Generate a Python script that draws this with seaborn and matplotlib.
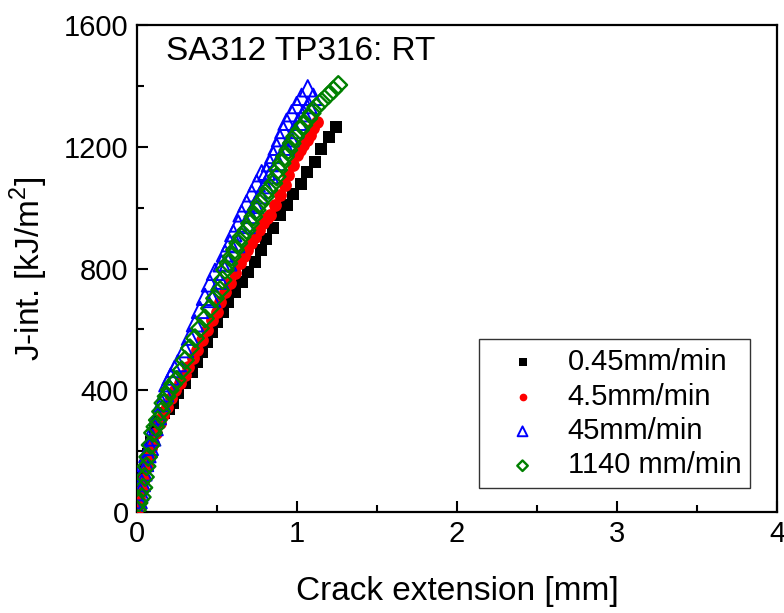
import matplotlib
matplotlib.use("Agg")
import matplotlib.pyplot as plt
import seaborn as sns
from matplotlib.ticker import MultipleLocator

sns.set_style("ticks")
plt.rcParams['font.family'] = ['Liberation Sans', 'DejaVu Sans']
plt.rcParams['mathtext.fontset'] = 'custom'
plt.rcParams['mathtext.rm'] = 'Liberation Sans'
for k in ['text.color', 'axes.labelcolor', 'xtick.color', 'ytick.color', 'axes.edgecolor']:
    plt.rcParams[k] = 'black'

labels = ["0.45mm/min", "4.5mm/min", "45mm/min", "1140 mm/min"]

x_045 = [0.0, 0.01, 0.02, 0.03, 0.05, 0.07, 0.09, 0.11, 0.14, 0.17, 0.197, 0.227, 0.258, 0.30,
         0.342, 0.373, 0.404, 0.435, 0.467, 0.498, 0.535, 0.571, 0.6125, 0.654, 0.696, 0.7375,
         0.773, 0.806, 0.852, 0.894, 0.935, 0.977, 1.023, 1.065, 1.112, 1.15, 1.2, 1.244]
y_045 = [5, 40, 75, 111, 150, 190, 230, 265, 295, 325, 340, 357, 390, 425,
         461, 494, 527, 560, 592, 625, 658, 691, 724, 757, 789, 822,
         861, 896, 932, 976, 1009, 1045, 1078, 1118, 1151, 1192, 1232, 1265]

x_45 = [0.0, 0.005, 0.015, 0.03, 0.045, 0.06, 0.075, 0.09, 0.10, 0.12, 0.145, 0.165, 0.19,
        0.215, 0.24, 0.269, 0.3, 0.321, 0.352, 0.373, 0.404, 0.435, 0.467, 0.498, 0.519,
        0.55, 0.581, 0.6125, 0.644, 0.67, 0.69, 0.715, 0.74, 0.765, 0.79, 0.81, 0.831,
        0.863, 0.894, 0.925, 0.946, 0.977, 0.998, 1.019, 1.04, 1.06, 1.081, 1.102, 1.123]
y_45 = [7, 30, 50, 72, 110, 148, 180, 210, 227, 260, 292, 320, 345,
        375, 400, 423, 450, 477, 505, 532, 565, 598, 631, 658, 691,
        724, 751, 784, 817, 840, 860, 885, 903, 925, 949, 965, 976,
        1009, 1041, 1074, 1107, 1140, 1173, 1189, 1206, 1222, 1239, 1261, 1282]

x_450 = [0.0, 0.01, 0.02, 0.03, 0.04, 0.05, 0.065, 0.08, 0.095, 0.11, 0.13, 0.155, 0.175,
         0.19, 0.21, 0.235, 0.255, 0.3, 0.331, 0.3625, 0.394, 0.425, 0.456, 0.4875, 0.529,
         0.55, 0.581, 0.602, 0.633, 0.654, 0.685, 0.717, 0.748, 0.779, 0.81, 0.831, 0.852,
         0.873, 0.894, 0.915, 0.935, 0.967, 0.998, 1.029, 1.067,
         0.47, 0.52, 0.57, 0.62, 0.685, 0.706, 0.7375, 0.769, 0.8, 0.831, 0.88, 0.93,
         0.96, 0.988, 1.008, 1.04, 1.071, 1.102]
y_450 = [10, 39, 65, 95, 130, 161, 190, 214, 245, 279, 315, 358, 390,
         423, 445, 470, 489, 535, 576, 620, 664, 707, 751, 789, 817,
         850, 883, 916, 948, 981, 1014, 1047, 1080, 1113, 1118, 1146, 1173,
         1200, 1228, 1255, 1282, 1310, 1337, 1364, 1392,
         700, 760, 820, 880, 943, 976, 1009, 1041, 1074, 1107, 1150, 1200,
         1228, 1255, 1282, 1310, 1337, 1364]

x_1140 = [0.0, 0.01, 0.03, 0.04, 0.05, 0.06, 0.07, 0.085, 0.10, 0.115, 0.13, 0.15, 0.165,
          0.185, 0.205, 0.225, 0.248, 0.279, 0.3, 0.331, 0.3625, 0.394, 0.425, 0.456,
          0.4875, 0.519, 0.535, 0.55, 0.571, 0.592, 0.6125, 0.633, 0.654, 0.685, 0.706,
          0.727, 0.748, 0.769, 0.8, 0.821, 0.852, 0.873, 0.883, 0.904, 0.925, 0.946, 0.967,
          0.988, 1.019, 1.04, 1.071, 1.092, 1.12, 1.154, 1.196, 1.227, 1.258]
y_1140 = [7, 30, 49, 80, 115, 150, 181, 220, 260, 280, 302, 330, 358,
          380, 401, 420, 434, 466, 499, 538, 571, 604, 636, 669,
          702, 729, 762, 795, 817, 839, 861, 883, 904, 926, 948,
          970, 992, 1014, 1036, 1058, 1080, 1102, 1124, 1146, 1167, 1189, 1211,
          1233, 1255, 1271, 1293, 1310, 1330, 1348, 1370, 1386, 1403]

fig = plt.figure(figsize=(7.84, 6.13), dpi=100)
ax = fig.add_axes([137/784, 1 - 512/613, 640/784, 487/613])

sns.scatterplot(x=x_045, y=y_045, marker='s', s=80, color='black', edgecolor='black',
                linewidth=0, label=labels[0], ax=ax, zorder=3)
sns.scatterplot(x=x_45, y=y_45, marker='o', s=85, color='red', edgecolor='red',
                linewidth=0, label=labels[1], ax=ax, zorder=3)
sns.scatterplot(x=x_450, y=y_450, marker='^', s=140, facecolor='none', edgecolor='blue',
                linewidth=1.4, label=labels[2], ax=ax, zorder=4)
sns.scatterplot(x=x_1140, y=y_1140, marker='D', s=80, facecolor='none', edgecolor='green',
                linewidth=1.7, label=labels[3], ax=ax, zorder=5)

ax.set_xlim(0, 4)
ax.set_ylim(0, 1600)
ax.xaxis.set_major_locator(MultipleLocator(1))
ax.xaxis.set_minor_locator(MultipleLocator(0.5))
ax.yaxis.set_major_locator(MultipleLocator(400))
ax.yaxis.set_minor_locator(MultipleLocator(200))
ax.tick_params(which='both', direction='in', width=1.5, labelsize=21, top=False, right=False,
               color='black', labelcolor='black')
ax.tick_params(which='major', length=8, pad=6)
ax.tick_params(which='minor', length=5)
for sp in ax.spines.values():
    sp.set_linewidth(1.6)
    sp.set_color('black')
    sp.set_visible(True)

ax.set_xlabel("Crack extension [mm]", fontsize=24, labelpad=20)
ax.set_ylabel("J-int. [kJ/m$^2$]", fontsize=24, labelpad=10)
ax.text(0.045, 0.945, "SA312 TP316: RT", transform=ax.transAxes, fontsize=24,
        ha='left', va='center')

leg = ax.legend(loc='lower right', bbox_to_anchor=(0.958, 0.049), borderaxespad=0,
                fontsize=21, frameon=True, fancybox=False, edgecolor='black',
                markerscale=0.6, handletextpad=0.35, borderpad=0.3, labelspacing=0.22,
                handlelength=2.4)
leg.get_frame().set_linewidth(1.0)

fig.savefig("out.png", dpi=100)
